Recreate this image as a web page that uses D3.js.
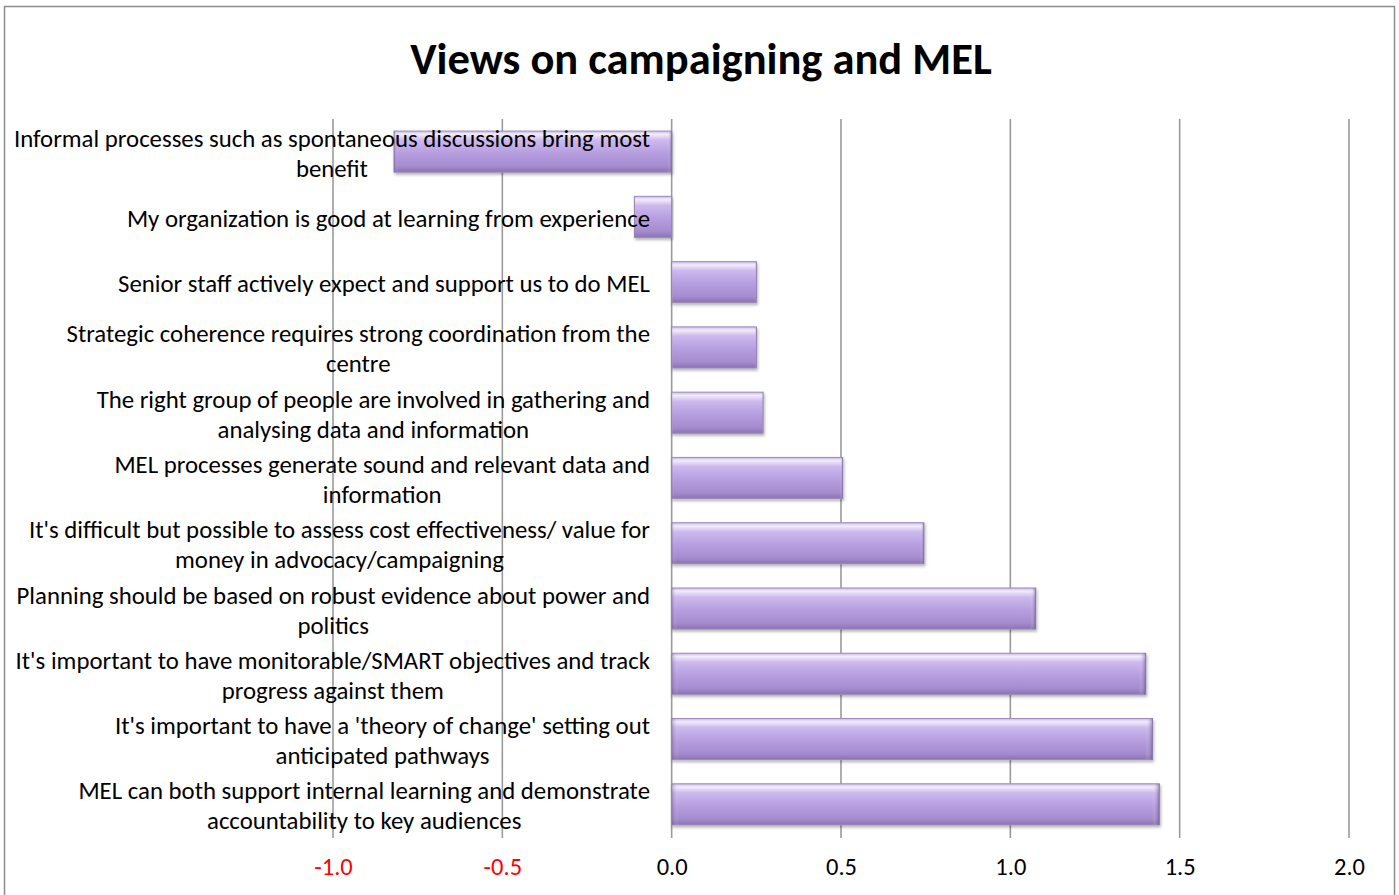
<!DOCTYPE html>
<html>
<head>
<meta charset="utf-8">
<script src="https://cdn.jsdelivr.net/npm/d3@7"></script>
<style>
  html, body { margin: 0; padding: 0; background: #fff; }
  svg { display: block; }
  text { font-family: Carlito, Calibri, "Open Sans", sans-serif; }
</style>
</head>
<body>
<svg id="chart" width="1399" height="895"></svg>
<script>
// Survey statements (top to bottom), each split into its display lines
const categories = [
  ["Informal processes such as spontaneous discussions bring most", "benefit"],
  ["My organization is good at learning from experience"],
  ["Senior staff actively expect and support us to do MEL"],
  ["Strategic coherence requires strong coordination from the", "centre"],
  ["The right group of people are involved in gathering and", "analysing data and information"],
  ["MEL processes generate sound and relevant data and", "information"],
  ["It's difficult but possible to assess cost effectiveness/ value for", "money in advocacy/campaigning"],
  ["Planning should be based on robust evidence about power and", "politics"],
  ["It's important to have monitorable/SMART objectives and track", "progress against them"],
  ["It's important to have a 'theory of change' setting out", "anticipated pathways"],
  ["MEL can both support internal learning and demonstrate", "accountability to key audiences"]
];
// Mean agreement score per statement
const values = [-0.82, -0.11, 0.25, 0.25, 0.27, 0.505, 0.745, 1.075, 1.40, 1.42, 1.44];
const tickValues = [-1.0, -0.5, 0.0, 0.5, 1.0, 1.5, 2.0];
const title = "Views on campaigning and MEL";

const svg = d3.select("#chart");
const W = 1399, H = 895;
const FONT = "Carlito, Calibri, 'Open Sans', sans-serif";

// Chart frame
svg.append("rect")
  .attr("x", 4.5).attr("y", 6.5)
  .attr("width", W - 9).attr("height", H + 10)
  .attr("fill", "#fff").attr("stroke", "#8c8c8c").attr("stroke-width", 1.5);

// Title
svg.append("text")
  .attr("x", 701).attr("y", 74)
  .attr("text-anchor", "middle")
  .attr("font-size", 44.5).attr("font-weight", "bold")
  .attr("fill", "#000")
  .text(title);

const x = d3.scaleLinear().domain([-1, 2]).range([333, 1349]);
const keys = categories.map((c, i) => i);
const y = d3.scaleBand().domain(keys).range([119, 837]).paddingInner(0.37).paddingOuter(0.185);

const defs = svg.append("defs");
const grad = defs.append("linearGradient")
  .attr("id", "barGrad").attr("x1", 0).attr("y1", 0).attr("x2", 0).attr("y2", 1);
[
  [0, "#cbbbe8"], [0.08, "#f3ecfb"], [0.22, "#cdb9ee"], [0.55, "#b59ddf"],
  [0.85, "#a58ccf"], [1, "#8a73b1"]
].forEach(([o, c]) => grad.append("stop").attr("offset", o).attr("stop-color", c));

const sideL = defs.append("linearGradient")
  .attr("id", "sideGrad").attr("x1", 0).attr("y1", 0).attr("x2", 1).attr("y2", 0);
[[0, "rgba(80,60,120,0.35)"], [0.015, "rgba(255,255,255,0)"], [0.985, "rgba(255,255,255,0)"], [1, "rgba(80,60,120,0.5)"]]
  .forEach(([o, c]) => sideL.append("stop").attr("offset", o).attr("stop-color", c));

const shadow = defs.append("filter").attr("id", "shadow")
  .attr("x", "-5%").attr("y", "-20%").attr("width", "110%").attr("height", "150%");
shadow.append("feDropShadow")
  .attr("dx", 1).attr("dy", 2).attr("stdDeviation", 1.5)
  .attr("flood-color", "#000").attr("flood-opacity", 0.3);

// Vertical gridlines
svg.append("g")
  .selectAll("line")
  .data(tickValues)
  .join("line")
  .attr("x1", d => x(d)).attr("x2", d => x(d))
  .attr("y1", 119).attr("y2", 838)
  .attr("stroke", "#9a9a9a").attr("stroke-width", 1.6);

// Bars
const bars = svg.append("g").selectAll("g")
  .data(values)
  .join("g");
bars.append("rect")
  .attr("x", d => x(Math.min(0, d)))
  .attr("y", (d, i) => y(i))
  .attr("width", d => Math.abs(x(d) - x(0)))
  .attr("height", y.bandwidth())
  .attr("fill", "url(#barGrad)")
  .attr("stroke", "#9c8cb8").attr("stroke-width", 1)
  .attr("filter", "url(#shadow)");
bars.append("rect")
  .attr("x", d => x(Math.min(0, d)))
  .attr("y", (d, i) => y(i))
  .attr("width", d => Math.abs(x(d) - x(0)))
  .attr("height", y.bandwidth())
  .attr("fill", "url(#sideGrad)");

// Category labels (drawn over the bars): each block ends at the label edge,
// its lines centred on one another
const labelEdge = 650;
const labels = svg.append("g");
categories.forEach((lines, i) => {
  const cy = y(i) + y.bandwidth() / 2;
  const lh = 30;
  const t = labels.append("text")
    .attr("text-anchor", "middle")
    .attr("font-size", 24.8)
    .attr("fill", "#000");
  const spans = lines.map((ln, j) => t.append("tspan")
    .attr("y", cy + 10 + (j - (lines.length - 1) / 2) * lh)
    .text(ln));
  const widest = d3.max(spans, s => s.node().getComputedTextLength());
  spans.forEach(s => s.attr("x", labelEdge - widest / 2));
});

// Axis tick labels
const axis = d3.axisBottom(x).tickValues(tickValues).tickFormat(d => d.toFixed(1)).tickSize(0);
const ax = svg.append("g").call(axis);
ax.select(".domain").remove();
ax.selectAll("text")
  .attr("font-size", 24.5)
  .attr("font-family", FONT)
  .attr("fill", d => d < 0 ? "#ff0000" : "#000")
  .attr("y", 875)
  .attr("dy", null);
</script>
</body>
</html>
